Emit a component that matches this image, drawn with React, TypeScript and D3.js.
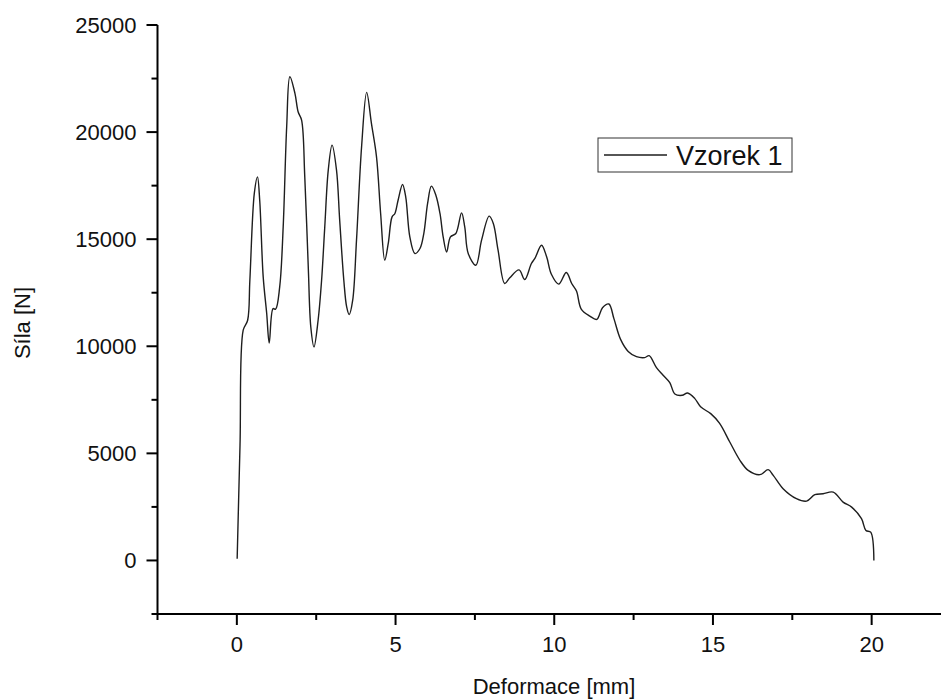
import React from "react";
import * as d3 from "d3";

const deformation = [
  0.01, 0.1, 0.2, 0.34, 0.41, 0.55, 0.65, 0.72, 0.83, 0.94, 1.02, 1.14, 1.22, 1.35, 1.46, 1.57, 1.67, 1.83, 1.93, 2.04,
  2.14, 2.25, 2.33, 2.43, 2.56, 2.67, 2.77, 2.88, 3.0, 3.14, 3.24, 3.37, 3.46, 3.54, 3.65, 3.77, 3.93, 4.09, 4.24,
  4.4, 4.53, 4.66, 4.77, 4.89, 4.98, 5.08, 5.22, 5.32, 5.45, 5.61, 5.77, 5.89, 6.01, 6.13, 6.27, 6.4, 6.5, 6.61,
  6.73, 6.9, 7.08, 7.18, 7.29, 7.53, 7.71, 7.95, 8.08, 8.23, 8.44, 8.6, 8.89, 9.07, 9.28, 9.39, 9.6, 9.76, 9.91,
  10.14, 10.38, 10.55, 10.7, 10.85, 11.12, 11.34, 11.52, 11.72, 11.88, 12.09, 12.33, 12.59, 12.85, 12.99, 13.22,
  13.43, 13.64, 13.8, 14.03, 14.2, 14.43, 14.62, 14.93, 15.21, 15.53, 15.85, 16.11, 16.48, 16.74, 16.9, 17.21,
  17.63, 17.95, 18.21, 18.47, 18.79, 19.1, 19.37, 19.68, 19.82, 19.97, 20.07,
];

const force = [
  80, 5400, 10750, 11215, 13085, 17136, 17910, 16820, 13240, 11540, 10155, 11760, 11730, 12770, 15575, 20250, 22585,
  21810, 20950, 20560, 17910, 13700, 10900, 9970, 11215, 13085, 15575, 18225, 19390, 18225, 15890, 13085, 11840,
  11480, 12150, 14955, 19315, 21855, 20405, 18845, 16200, 14020, 14800, 16040, 16200, 16820, 17555, 16980, 15110,
  14330, 14565, 15265, 16670, 17475, 17055, 16200, 15110, 14405, 15110, 15265, 16230, 15575, 14330, 13785, 14955,
  16075, 15735, 14485, 12930, 13200, 13565, 13115, 13865, 14100, 14720, 14175, 13360, 12900, 13445, 12930, 12580,
  11740, 11410, 11255, 11800, 11975, 11290, 10320, 9760, 9515, 9470, 9560, 9000, 8645, 8300, 7775, 7710, 7820,
  7555, 7160, 6855, 6400, 5530, 4675, 4205, 4005, 4240, 3970, 3350, 2885, 2770, 3070, 3115, 3190, 2725, 2490, 1950,
  1400, 1320, 0,
];

const xTicks = [0, 5, 10, 15, 20];
const xMinorTicks = [-2.5, 2.5, 7.5, 12.5, 17.5, 22.5];
const yTicks = [0, 5000, 10000, 15000, 20000, 25000];
const yMinorTicks = [-2500, 2500, 7500, 12500, 17500, 22500];

const seriesName = "Vzorek 1";
const xTitle = "Deformace [mm]";
const yTitle = "Síla [N]";

export default function App() {
  const W = 941;
  const H = 700;
  const left = 157.5;
  const right = 951;
  const top = 25;
  const bottom = 614;

  const x = d3.scaleLinear().domain([-2.5, 22.5]).range([left, right]);
  const y = d3.scaleLinear().domain([-2500, 25000]).range([bottom, top]);

  const pts = deformation.map((d, i) => [d, force[i]] as [number, number]);
  const line = d3
    .line<[number, number]>()
    .x((d) => x(d[0]))
    .y((d) => y(d[1]))
    .curve(d3.curveCatmullRom.alpha(0.5));

  const font = "'Liberation Sans', Arial, Helvetica, sans-serif";

  return (
    <div style={{ position: "absolute", left: 0, top: 0 }}>
      <svg width={W} height={H} style={{ display: "block", background: "#fff" }}>
        <defs>
          <clipPath id="plotClip">
            <rect x={left} y={top - 5} width={right - left} height={bottom - top + 5} />
          </clipPath>
        </defs>
        <path
          d={line(pts) || ""}
          fill="none"
          stroke="#1e1e1e"
          strokeWidth={1.4}
          strokeLinejoin="round"
          clipPath="url(#plotClip)"
        />
        {/* Y axis */}
        <line x1={left} x2={left} y1={top} y2={bottom + 1} stroke="#000" strokeWidth={2} />
        {yTicks.map((t) => (
          <g key={"yt" + t}>
            <line x1={left - 11} x2={left} y1={y(t)} y2={y(t)} stroke="#000" strokeWidth={2} />
            <text
              x={left - 21}
              y={y(t)}
              textAnchor="end"
              dominantBaseline="central"
              fontFamily={font}
              fontSize={22}
              fill="#111"
            >
              {t}
            </text>
          </g>
        ))}
        {yMinorTicks.map((t) => (
          <line key={"ym" + t} x1={left - 6} x2={left} y1={y(t)} y2={y(t)} stroke="#000" strokeWidth={2} />
        ))}
        {/* X axis */}
        <line x1={left - 1} x2={right} y1={bottom} y2={bottom} stroke="#000" strokeWidth={2} />
        {xTicks.map((t) => (
          <g key={"xt" + t}>
            <line x1={x(t)} x2={x(t)} y1={bottom} y2={bottom + 11} stroke="#000" strokeWidth={2} />
            <text x={x(t)} y={652} textAnchor="middle" fontFamily={font} fontSize={22} fill="#111">
              {t}
            </text>
          </g>
        ))}
        {xMinorTicks.map((t) => (
          <line key={"xm" + t} x1={x(t)} x2={x(t)} y1={bottom} y2={bottom + 6} stroke="#000" strokeWidth={2} />
        ))}
        {/* Titles */}
        <text x={554} y={694} textAnchor="middle" fontFamily={font} fontSize={22} fill="#111">
          {xTitle}
        </text>
        <text
          transform="translate(30,323) rotate(-90)"
          textAnchor="middle"
          fontFamily={font}
          fontSize={22}
          fill="#111"
        >
          {yTitle}
        </text>
        {/* Legend */}
        <rect x={598} y={138} width={194} height={34} fill="#fff" stroke="#333" strokeWidth={1} />
        <line x1={604} x2={667} y1={155} y2={155} stroke="#1e1e1e" strokeWidth={1.4} />
        <text x={676} y={165} fontFamily={font} fontSize={27} fill="#111">
          {seriesName}
        </text>
      </svg>
    </div>
  );
}
